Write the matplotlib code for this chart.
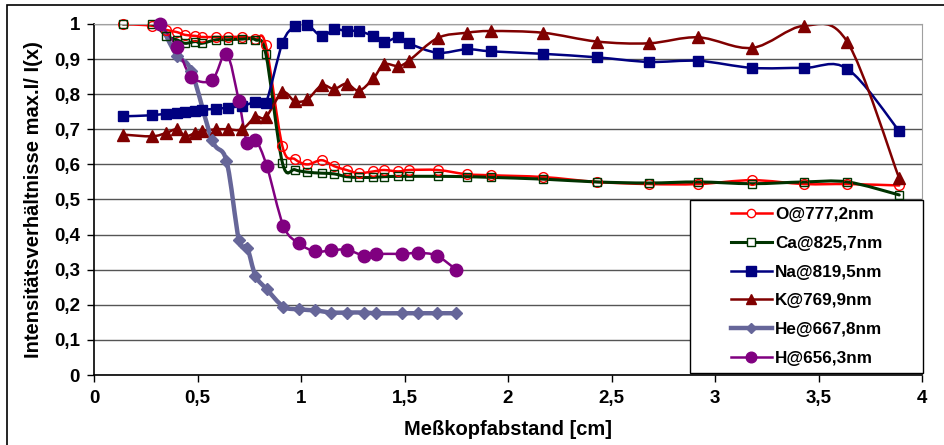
import numpy as np
import matplotlib.pyplot as plt
from matplotlib.path import Path
from matplotlib.patches import PathPatch, Rectangle
from matplotlib.lines import Line2D
from matplotlib.ticker import FuncFormatter, MultipleLocator

plt.rcParams["font.family"] = ["Liberation Sans", "DejaVu Sans"]
plt.rcParams["font.weight"] = "bold"

# Messpositionen (O, Ca, Na, K)
x_main = [0.14, 0.28, 0.35, 0.40, 0.44, 0.49, 0.52, 0.59, 0.645, 0.715, 0.78, 0.83,
          0.91, 0.97, 1.03, 1.10, 1.16, 1.22, 1.28, 1.35, 1.40, 1.47, 1.52, 1.66,
          1.80, 1.92, 2.17, 2.43, 2.68, 2.92, 3.18, 3.43, 3.64, 3.89]
o_777 = [1.0, 0.995, 0.983, 0.977, 0.969, 0.966, 0.963, 0.963, 0.963, 0.963, 0.958, 0.94,
         0.652, 0.615, 0.60, 0.612, 0.595, 0.584, 0.575, 0.58, 0.584, 0.58, 0.584, 0.584,
         0.572, 0.569, 0.564, 0.55, 0.544, 0.544, 0.555, 0.544, 0.544, 0.54]
ca_825 = [1.0, 1.0, 0.965, 0.955, 0.945, 0.95, 0.945, 0.955, 0.955, 0.957, 0.955, 0.915,
          0.605, 0.585, 0.578, 0.575, 0.573, 0.565, 0.563, 0.563, 0.565, 0.566, 0.566, 0.566,
          0.565, 0.563, 0.558, 0.55, 0.547, 0.55, 0.545, 0.55, 0.55, 0.513]
na_819 = [0.737, 0.74, 0.745, 0.747, 0.748, 0.752, 0.756, 0.758, 0.762, 0.766, 0.778, 0.775,
          0.945, 0.993, 0.998, 0.965, 0.985, 0.98, 0.98, 0.965, 0.948, 0.962, 0.945, 0.918,
          0.928, 0.922, 0.915, 0.905, 0.892, 0.895, 0.875, 0.875, 0.872, 0.695]
k_769 = [0.685, 0.68, 0.69, 0.70, 0.68, 0.69, 0.695, 0.70, 0.70, 0.70, 0.735, 0.735,
         0.805, 0.78, 0.785, 0.825, 0.815, 0.83, 0.81, 0.845, 0.885, 0.88, 0.895, 0.96,
         0.975, 0.98, 0.975, 0.95, 0.945, 0.962, 0.932, 0.995, 0.948, 0.56]

# Messpositionen (He, H)
x_short = [0.32, 0.40, 0.47, 0.57, 0.64, 0.70, 0.74, 0.78, 0.835, 0.915,
           0.99, 1.07, 1.145, 1.22, 1.305, 1.36, 1.49, 1.565, 1.655, 1.75]
he_667 = [1.0, 0.91, 0.867, 0.67, 0.61, 0.385, 0.363, 0.283, 0.244, 0.195,
          0.187, 0.184, 0.178, 0.178, 0.178, 0.176, 0.176, 0.176, 0.176, 0.176]
h_656 = [1.0, 0.935, 0.85, 0.84, 0.915, 0.78, 0.66, 0.67, 0.595, 0.425,
         0.375, 0.352, 0.355, 0.357, 0.34, 0.345, 0.345, 0.348, 0.34, 0.30]

series = [
    # label, x, y, color, lw, marker, ms, filled
    ("O@777,2nm", x_main, o_777, "#FF0000", 1.8, "o", 7, False),
    ("Ca@825,7nm", x_main, ca_825, "#003300", 2.2, "s", 6, False),
    ("Na@819,5nm", x_main, na_819, "#000080", 1.8, "s", 7.8, True),
    ("K@769,9nm", x_main, k_769, "#800000", 1.8, "^", 8.5, True),
    ("He@667,8nm", x_short, he_667, "#666699", 3.2, "D", 6.5, True),
    ("H@656,3nm", x_short, h_656, "#800080", 1.8, "o", 9, True),
]


def smooth_path(x, y):
    # geglaettete Linie wie in Excel (Catmull-Rom als Bezier)
    p = np.column_stack([x, y]).astype(float)
    n = len(p)
    verts = [p[0]]
    codes = [Path.MOVETO]
    for i in range(n - 1):
        p0 = p[i - 1] if i > 0 else p[i]
        p3 = p[i + 2] if i + 2 < n else p[i + 1]
        verts += [p[i] + (p[i + 1] - p0) / 6, p[i + 1] - (p3 - p[i]) / 6, p[i + 1]]
        codes += [Path.CURVE4] * 3
    return Path(verts, codes)


fig = plt.figure(figsize=(9.44, 4.45), dpi=100)
ax = fig.add_axes([94 / 944, 70 / 445, 828 / 944, 351 / 445])

handles = []
for label, xs, ys, col, lw, mk, ms, filled in series:
    ax.add_patch(PathPatch(smooth_path(xs, ys), facecolor="none", edgecolor=col,
                           lw=lw, zorder=2, capstyle="round", joinstyle="round"))
    mfc = col if filled else "none"
    ax.plot(xs, ys, linestyle="none", marker=mk, ms=ms, mfc=mfc, mec=col,
            mew=1.0, zorder=3, clip_on=False)
    handles.append(Line2D([], [], color=col, lw=lw, marker=mk, ms=ms * 0.85,
                          mfc=mfc if filled else "white", mec=col, mew=1.0))

ax.set_xlim(0, 4)
ax.set_ylim(0, 1)
ax.xaxis.set_major_locator(MultipleLocator(0.5))
ax.yaxis.set_major_locator(MultipleLocator(0.1))
comma = FuncFormatter(lambda v, pos: f"{v:g}".replace(".", ","))
ax.xaxis.set_major_formatter(comma)
ax.yaxis.set_major_formatter(comma)
ax.tick_params(axis="both", direction="out", length=5, width=1, labelsize=13.5, color="black")
ax.tick_params(axis="x", pad=6)
ax.tick_params(axis="y", pad=5)

ax.grid(True, axis="y", color="#555555", lw=1, zorder=1)
ax.set_axisbelow(True)
for s in ["top", "right"]:
    ax.spines[s].set_color("#A0A0A0")
for s in ["left", "bottom"]:
    ax.spines[s].set_color("black")
    ax.spines[s].set_linewidth(1.2)

ax.set_xlabel("Meßkopfabstand [cm]", fontsize=14.5, fontweight="bold", labelpad=9)
ax.set_ylabel("Intensitätsverhältnisse max.I/ I(x)", fontsize=14.5, fontweight="bold", labelpad=8)

# Legendenkasten unten rechts
box = (0.7195, 0.006, 0.282, 0.493)
ax.add_patch(Rectangle(box[:2], box[2], box[3], transform=ax.transAxes, facecolor="white",
                       edgecolor="black", lw=1, zorder=4, clip_on=False))
ax.legend(handles, [s[0] for s in series], loc="center", bbox_to_anchor=box,
          frameon=False, prop={"size": 12.3, "weight": "bold"}, handlelength=2.4,
          handletextpad=0.2, labelspacing=0.8, borderpad=0.2)

# Rahmen um das ganze Diagramm
fig.patches.append(Rectangle((7 / 944, -0.05), 1.2, 1.05 - 5 / 445, transform=fig.transFigure,
                             facecolor="none", edgecolor="black", lw=1.2))

fig.savefig("out.png", dpi=100)
